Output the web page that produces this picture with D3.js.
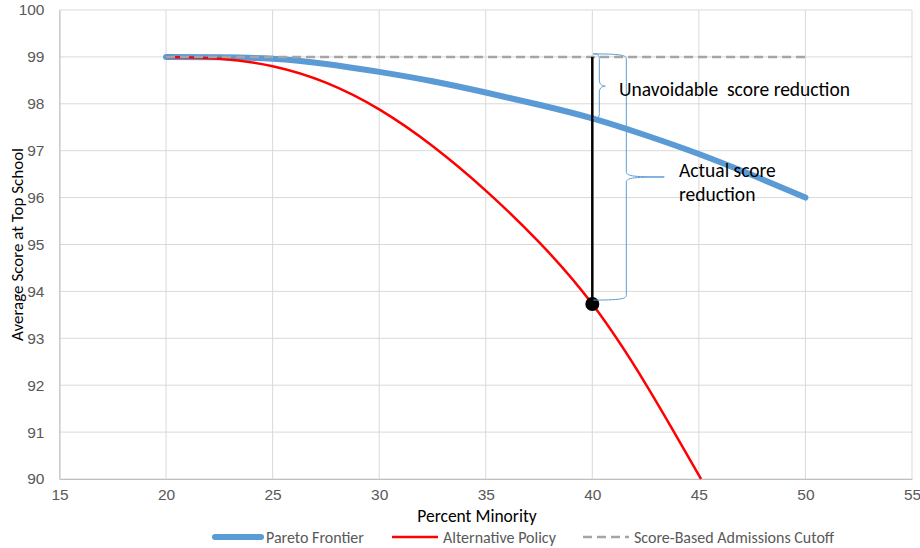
<!DOCTYPE html>
<html>
<head>
<meta charset="utf-8">
<script src="https://cdn.jsdelivr.net/npm/d3@7"></script>
<style>
body { margin: 0; background: #fff; }
svg { font-family: Carlito, Calibri, "Liberation Sans", "Open Sans", sans-serif; }
</style>
</head>
<body>
<script>
// values
var xTicks = [15, 20, 25, 30, 35, 40, 45, 50, 55];
var yTicks = [90, 91, 92, 93, 94, 95, 96, 97, 98, 99, 100];

var paretoX = [20, 22.5, 25, 27.5, 30, 32.5, 35, 37.5, 40, 42.5, 45, 47.5, 50];
var paretoY = [99, 98.99, 98.96, 98.85, 98.68, 98.48, 98.24, 97.98, 97.69, 97.33, 96.93, 96.48, 96.0];

var altX = [20, 22.5, 25, 27.5, 30, 32.5, 35, 37.5, 40, 42.5, 45.1];
var altY = [99, 98.96, 98.8, 98.45, 97.88, 97.1, 96.15, 95.05, 93.73, 92.03, 90];

var cutoffX = [20, 50];
var cutoffY = [99, 99];

var policyX = 40, policyScore = 93.73, frontierAt40 = 97.69;

var legendNames = ["Pareto Frontier", "Alternative Policy", "Score-Based Admissions Cutoff"];

var width = 920, height = 548;
var margin = {top: 10, right: 8, bottom: 69, left: 59.5};

var svg = d3.select("body").append("svg")
    .attr("width", width)
    .attr("height", height);

var xScale = d3.scaleLinear().domain([15, 55]).range([margin.left, width - margin.right]);
var yScale = d3.scaleLinear().domain([90, 100]).range([height - margin.bottom, margin.top]);

// grid
svg.append("g").selectAll("line").data(yTicks).enter().append("line")
    .attr("x1", xScale(15)).attr("x2", xScale(55))
    .attr("y1", function(d) { return yScale(d); })
    .attr("y2", function(d) { return yScale(d); })
    .attr("stroke", "#d9d9d9").attr("stroke-width", 1);
svg.append("g").selectAll("line").data(xTicks).enter().append("line")
    .attr("y1", yScale(90)).attr("y2", yScale(100))
    .attr("x1", function(d) { return xScale(d); })
    .attr("x2", function(d) { return xScale(d); })
    .attr("stroke", "#d9d9d9").attr("stroke-width", 1);

// axes
var xAxis = svg.append("g")
    .attr("transform", "translate(0," + yScale(90) + ")")
    .call(d3.axisBottom(xScale).tickValues(xTicks).tickSize(0).tickPadding(10));
var yAxis = svg.append("g")
    .attr("transform", "translate(" + xScale(15) + ",0)")
    .call(d3.axisLeft(yScale).tickValues(yTicks).tickSize(0).tickPadding(15));
[xAxis, yAxis].forEach(function(a) {
    a.select(".domain").attr("stroke", "#bfbfbf");
    a.selectAll("text").attr("fill", "#595959").style("font-size", "15.5px").style("font-family", null);
});

svg.append("text")
    .attr("x", 477).attr("y", 522)
    .attr("text-anchor", "middle")
    .style("font-size", "17.5px")
    .text("Percent Minority");

svg.append("text")
    .attr("transform", "translate(23," + yScale(95) + ") rotate(-90)")
    .attr("text-anchor", "middle")
    .style("font-size", "17px")
    .text("Average Score at Top School");

// lines
var line = d3.line()
    .x(function(d) { return xScale(d[0]); })
    .y(function(d) { return yScale(d[1]); })
    .curve(d3.curveNatural);

svg.append("path")
    .datum(d3.zip(paretoX, paretoY))
    .attr("d", line)
    .attr("fill", "none").attr("stroke", "#5b9bd5")
    .attr("stroke-width", 6).attr("stroke-linecap", "round");

svg.append("path")
    .datum(d3.zip(altX, altY))
    .attr("d", line)
    .attr("fill", "none").attr("stroke", "#ff0000")
    .attr("stroke-width", 2.5);

svg.append("path")
    .datum(d3.zip(cutoffX, cutoffY))
    .attr("d", line)
    .attr("fill", "none").attr("stroke", "#a5a5a5")
    .attr("stroke-width", 2.5).attr("stroke-dasharray", "9,5");

// vertical marker and point
svg.append("line")
    .attr("x1", xScale(policyX)).attr("x2", xScale(policyX))
    .attr("y1", yScale(99)).attr("y2", yScale(policyScore))
    .attr("stroke", "#000").attr("stroke-width", 2.5);
svg.append("circle")
    .attr("cx", xScale(policyX)).attr("cy", yScale(policyScore))
    .attr("r", 7).attr("fill", "#000");

// curly braces
function brace(xl, xb, xt, y0, y1) {
    var ym = (y0 + y1) / 2;
    return "M" + xl + "," + y0 +
        " C" + xb + "," + y0 + " " + xb + "," + (y0 + 2) + " " + xb + "," + (y0 + 6) +
        " L" + xb + "," + (ym - 6) +
        " C" + xb + "," + (ym - 1) + " " + (xb + 4) + "," + ym + " " + xt + "," + ym +
        " C" + (xb + 4) + "," + ym + " " + xb + "," + (ym + 1) + " " + xb + "," + (ym + 6) +
        " L" + xb + "," + (y1 - 6) +
        " C" + xb + "," + (y1 - 2) + " " + xb + "," + y1 + " " + xl + "," + y1;
}
var xp = xScale(policyX);
svg.append("path")
    .attr("d", brace(xp + 1, xp + 7, xp + 13, yScale(99) - 3, yScale(frontierAt40)))
    .attr("fill", "none").attr("stroke", "#5b9bd5").attr("stroke-width", 1);
svg.append("path")
    .attr("d", brace(xp + 1, xp + 34, xp + 72, yScale(99) - 3, yScale(policyScore) - 4))
    .attr("fill", "none").attr("stroke", "#5b9bd5").attr("stroke-width", 1);

svg.append("text").attr("x", 619).attr("y", 96)
    .style("font-size", "19.5px").attr("xml:space", "preserve")
    .text("Unavoidable  score reduction");
svg.append("text").attr("x", 679).attr("y", 177)
    .style("font-size", "19.5px").text("Actual score");
svg.append("text").attr("x", 679).attr("y", 201)
    .style("font-size", "19.5px").text("reduction");

// legend
var legendX = [215, 392, 583];
var legendStyle = [
    {stroke: "#5b9bd5", w: 6, dash: null, cap: "round"},
    {stroke: "#ff0000", w: 2.5, dash: null, cap: "butt"},
    {stroke: "#a5a5a5", w: 2.5, dash: "9,5", cap: "butt"}
];
var legend = svg.append("g").selectAll("g").data(legendNames).enter().append("g")
    .attr("transform", function(d, i) { return "translate(" + legendX[i] + ",537)"; });
legend.append("line")
    .attr("x1", 0).attr("x2", 46)
    .attr("stroke", function(d, i) { return legendStyle[i].stroke; })
    .attr("stroke-width", function(d, i) { return legendStyle[i].w; })
    .attr("stroke-dasharray", function(d, i) { return legendStyle[i].dash; })
    .attr("stroke-linecap", function(d, i) { return legendStyle[i].cap; });
legend.append("text")
    .attr("x", 51).attr("y", 5.5)
    .attr("fill", "#595959")
    .style("font-size", "16px")
    .text(function(d) { return d; });
</script>
</body>
</html>
